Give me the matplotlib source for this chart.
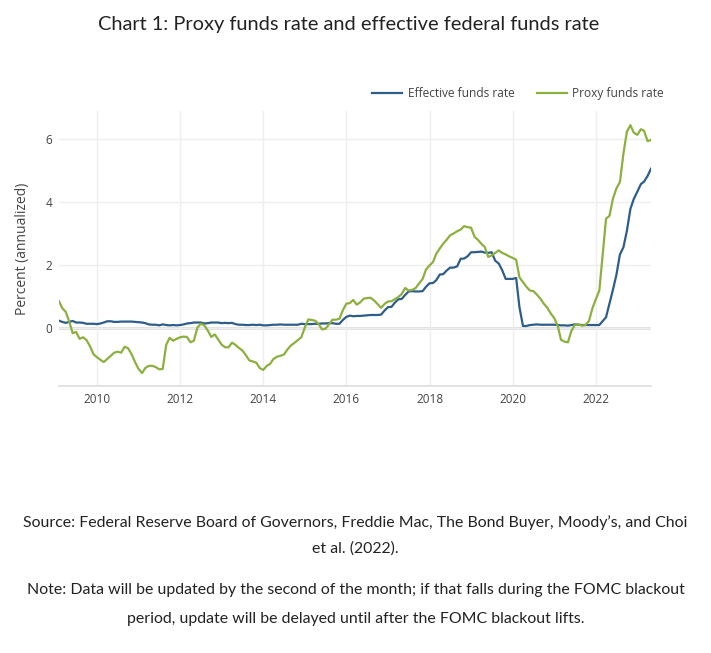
import matplotlib
matplotlib.use('Agg')
import matplotlib.pyplot as plt
import pandas as pd

# monthly observations, Feb 2009 - May 2023
start_month = '2009-02-01'

effective_rate = [
    0.22, 0.18, 0.15, 0.18, 0.21, 0.16, 0.16, 0.15, 0.12, 0.12, 0.12,
    0.11, 0.13, 0.16, 0.20, 0.20, 0.18, 0.18, 0.19, 0.19, 0.19, 0.19, 0.18,
    0.17, 0.16, 0.14, 0.10, 0.09, 0.09, 0.07, 0.10, 0.08, 0.07, 0.08, 0.07,
    0.08, 0.10, 0.13, 0.14, 0.16, 0.16, 0.16, 0.13, 0.14, 0.16, 0.16, 0.16,
    0.14, 0.15, 0.14, 0.15, 0.11, 0.09, 0.09, 0.08, 0.08, 0.09, 0.08, 0.09,
    0.07, 0.07, 0.08, 0.09, 0.09, 0.10, 0.09, 0.09, 0.09, 0.09, 0.09, 0.12,
    0.11, 0.11, 0.11, 0.12, 0.12, 0.13, 0.13, 0.14, 0.14, 0.12, 0.12, 0.24,
    0.34, 0.38, 0.36, 0.37, 0.37, 0.38, 0.39, 0.40, 0.40, 0.40, 0.41, 0.54,
    0.65, 0.66, 0.79, 0.90, 0.91, 1.04, 1.15, 1.16, 1.15, 1.15, 1.16, 1.30,
    1.41, 1.42, 1.51, 1.69, 1.70, 1.82, 1.91, 1.91, 1.95, 2.19, 2.20, 2.27,
    2.40, 2.40, 2.41, 2.42, 2.39, 2.38, 2.40, 2.13, 2.04, 1.83, 1.55, 1.55,
    1.55, 1.58, 0.65, 0.05, 0.05, 0.08, 0.09, 0.10, 0.09, 0.09, 0.09, 0.09,
    0.09, 0.08, 0.07, 0.07, 0.06, 0.08, 0.10, 0.09, 0.08, 0.08, 0.08, 0.08,
    0.08, 0.08, 0.20, 0.33, 0.77, 1.21, 1.68, 2.33, 2.56, 3.08, 3.78, 4.10,
    4.33, 4.57, 4.65, 4.83, 5.06,
]

proxy_rate = [
    0.84, 0.62, 0.50, 0.20, -0.18, -0.14, -0.36, -0.31, -0.40, -0.60, -0.85,
    -0.95, -1.03, -1.10, -1.00, -0.90, -0.80, -0.77, -0.80, -0.61, -0.66, -0.85, -1.10,
    -1.32, -1.45, -1.29, -1.22, -1.22, -1.26, -1.33, -1.32, -0.55, -0.33, -0.42, -0.36,
    -0.31, -0.29, -0.30, -0.47, -0.42, 0.00, 0.12, 0.07, -0.10, -0.30, -0.22, -0.38,
    -0.55, -0.63, -0.63, -0.48, -0.55, -0.65, -0.73, -0.88, -1.05, -1.08, -1.12, -1.29,
    -1.35, -1.22, -1.16, -1.00, -0.93, -0.90, -0.86, -0.70, -0.57, -0.49, -0.40, -0.31,
    0.00, 0.26, 0.24, 0.22, 0.12, -0.06, -0.04, 0.10, 0.25, 0.25, 0.28, 0.55,
    0.76, 0.78, 0.88, 0.73, 0.80, 0.92, 0.94, 0.95, 0.86, 0.75, 0.63, 0.75,
    0.83, 0.84, 0.90, 0.97, 1.07, 1.26, 1.18, 1.20, 1.26, 1.40, 1.55, 1.85,
    1.98, 2.09, 2.35, 2.52, 2.67, 2.80, 2.94, 3.00, 3.07, 3.12, 3.23, 3.20,
    3.18, 2.89, 2.80, 2.67, 2.57, 2.25, 2.30, 2.38, 2.46, 2.38, 2.33, 2.27,
    2.22, 2.16, 1.60, 1.45, 1.30, 1.18, 1.16, 1.05, 0.92, 0.76, 0.63, 0.45,
    0.30, 0.05, -0.39, -0.45, -0.47, -0.10, 0.08, 0.10, 0.06, 0.08, 0.20, 0.60,
    0.90, 1.18, 2.25, 3.47, 3.56, 4.11, 4.43, 4.64, 5.55, 6.24, 6.45, 6.21,
    6.14, 6.32, 6.27, 5.94, 5.98,
]

dates = pd.date_range(start_month, periods=len(proxy_rate), freq='MS')

y_ticks = [0, 2, 4, 6]
x_tick_years = [2010, 2012, 2014, 2016, 2018, 2020, 2022]

blue = '#2f5d8a'
green = '#8cb03f'
text_col = '#444444'

fig = plt.figure(figsize=(7.11, 6.53), dpi=100)
ax = fig.add_axes([0.083, 0.409, 0.8326, 0.421])

ax.plot(dates, effective_rate, color=blue, lw=1.6, label='Effective funds rate', zorder=3)
ax.plot(dates, proxy_rate, color=green, lw=1.6, label='Proxy funds rate', zorder=3)

ax.set_xlim(dates[0], dates[-1])
ax.set_ylim(-1.86, 6.9)
ax.set_yticks(y_ticks)
ax.set_xticks([pd.Timestamp(f'{y}-01-01') for y in x_tick_years])
ax.set_xticklabels([str(y) for y in x_tick_years])

ax.grid(True, color='#eeeeee', lw=1)
ax.axhline(0, color='#dddddd', lw=2, zorder=1)
for s in ['top', 'right', 'left']:
    ax.spines[s].set_visible(False)
ax.spines['bottom'].set_color('#dddddd')
ax.spines['bottom'].set_linewidth(1.2)
ax.tick_params(length=0, labelsize=8.5, colors=text_col, pad=5, labelfontfamily='Open Sans')
ax.set_ylabel('Percent (annualized)', fontsize=10, color=text_col, family='Open Sans', labelpad=11)

leg = ax.legend(loc='lower right', bbox_to_anchor=(1.04, 1.0), ncol=2, frameon=False,
                prop={'family': 'Open Sans', 'size': 8.6}, handlelength=2.5,
                columnspacing=1.9, handletextpad=0.45, labelcolor=text_col)

fig.text(0.49, 0.962, 'Chart 1: Proxy funds rate and effective federal funds rate',
         ha='center', va='center', fontsize=14.4, family='Lato', color='#222222')

notes = [
    (0.200, 'Source: Federal Reserve Board of Governors, Freddie Mac, The Bond Buyer, Moody\u2019s, and Choi'),
    (0.160, 'et al. (2022).'),
    (0.096, 'Note: Data will be updated by the second of the month; if that falls during the FOMC blackout'),
    (0.052, 'period, update will be delayed until after the FOMC blackout lifts.'),
]
for yy, txt in notes:
    fig.text(0.5, yy, txt, ha='center', va='center', fontsize=11.4, family='Lato', color='#222222')

fig.savefig('out.png', dpi=100)
